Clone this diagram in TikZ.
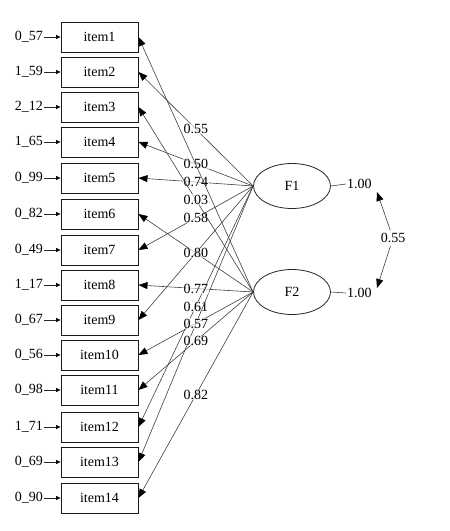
\documentclass[tikz,border=0pt]{standalone}
\usepackage{fontspec}
\setmainfont{Liberation Serif}
\usetikzlibrary{arrows.meta,shapes.geometric}
\begin{document}
\begin{tikzpicture}[x=1pt,y=-1pt,
  itembox/.style={draw=black!90, line width=0.9pt, minimum width=77pt, minimum height=30pt, inner sep=0pt, font=\fontsize{14}{16}\selectfont},
  errlab/.style={anchor=east, inner sep=1pt, font=\fontsize{14}{16}\selectfont},
  errarrow/.style={-{Triangle[length=4.5pt,width=4pt,color=black]}, line width=0.6pt, draw=black!85},
  load/.style={-{Triangle[length=9pt,width=7pt,color=black]}, line width=0.6pt, draw=black!75},
  lab/.style={fill=white, fill opacity=0.6, text opacity=1, inner sep=0.5pt, font=\fontsize{14}{16}\selectfont},
  fac/.style={draw=black!85, line width=0.8pt, ellipse, minimum width=77pt, minimum height=45pt, inner sep=0pt, font=\fontsize{14}{16}\selectfont},
  vlab/.style={anchor=west, inner sep=1pt, font=\fontsize{14}{16}\selectfont}
]
\useasboundingbox (0,0) rectangle (450,531);

\foreach \i/\y/\e in {1/37/0\_57, 2/72/1\_59, 3/107/2\_12, 4/142/1\_65, 5/178/0\_99, 6/214/0\_82, 7/250/0\_49, 8/285/1\_17, 9/320/0\_67, 10/355/0\_56, 11/390/0\_98, 12/427/1\_71, 13/462/0\_69, 14/498/0\_90} {
  \node[itembox] (item\i) at (99.5,\y) {item\i};
  \node[errlab] (e\i) at (44,\y) {\e};
  \draw[errarrow] (e\i) -- (item\i);
}

\node[fac] (F1) at (292,186) {F1};
\node[fac] (F2) at (292,292) {F2};

% loadings of F1
\draw[load] (F1.west) -- node[lab] (l2) {0.55} (item2.east);
\draw[load] (F1.west) -- node[lab] (l4) {0.50} (item4.east);
\draw[load] (F1.west) -- node[lab] (l5) {0.74} (item5.east);
\draw[load] (F1.west) -- node[lab] (l7) {0.58} (item7.east);
\draw[load] (F1.west) -- (item9.east);
\draw[load] (F1.west) -- node[lab] (l12) {0.61} (item12.east);
\draw[load] (F1.west) -- (item13.east);
% loadings of F2
\draw[load] (F2.west) -- (item1.east);
\draw[load] (F2.west) -- node[lab] (l3) {0.03} (item3.east);
\draw[load] (F2.west) -- node[lab] (l6) {0.80} (item6.east);
\draw[load] (F2.west) -- node[lab] (l8) {0.77} (item8.east);
\draw[load] (F2.west) -- node[lab] (l10) {0.57} (item10.east);
\draw[load] (F2.west) -- node[lab] (l11) {0.69} (item11.east);
\draw[load] (F2.west) -- node[lab] (l14) {0.82} (item14.east);

% variances
\node[vlab] (v1) at (346,184) {1.00};
\node[vlab] (v2) at (346,293) {1.00};
\draw[line width=0.6pt, draw=black!75] (F1.east) -- (v1.west);
\draw[line width=0.6pt, draw=black!75] (F2.east) -- (v2.west);

% covariance
\node[inner sep=3pt, font=\fontsize{14}{16}\selectfont] (cov) at (393,238) {0.55};
\coordinate (c1) at (377,192);
\coordinate (c2) at (377,288);
\draw[load] (cov) -- (c1);
\draw[load] (cov) -- (c2);
\end{tikzpicture}
\end{document}
